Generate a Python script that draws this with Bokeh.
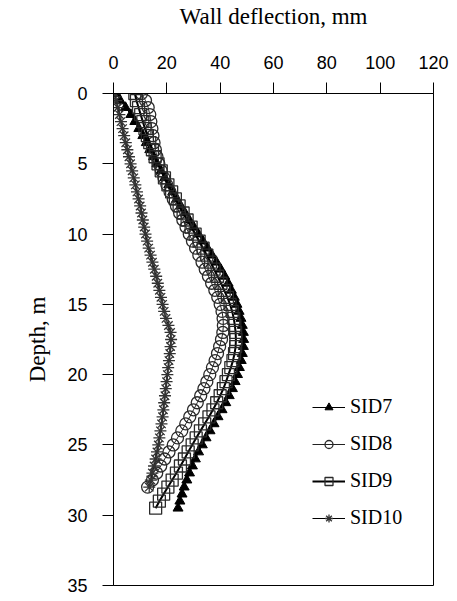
from bokeh.plotting import figure
from bokeh.models import Range1d, FixedTicker, Legend, LegendItem
from bokeh.embed import file_html
from bokeh.resources import INLINE

# Depth (m) and wall deflection (mm) readings
depth_7 = [i * 0.5 for i in range(60)]
sid7 = [1.0, 2.5, 4.5, 6.5, 8.0, 9.5, 11.0, 12.3, 13.6, 15.0,
        16.3, 17.8, 19.2, 20.7, 22.2, 23.7, 25.2, 26.8, 28.4, 30.1,
        31.8, 33.5, 35.2, 36.9, 38.6, 40.2, 41.7, 43.0, 44.2, 45.3,
        46.3, 47.1, 47.8, 48.3, 48.7, 48.8, 48.7, 48.3, 47.9, 47.2,
        46.5, 45.6, 44.6, 43.4, 42.1, 40.7, 39.2, 37.7, 36.2, 34.7,
        33.3, 31.9, 30.7, 29.6, 28.5, 27.5, 26.5, 25.7, 24.9, 24.2]

depth_9 = [i * 0.5 for i in range(60)]
sid9 = [8.0, 8.6, 9.4, 10.2, 11.0, 11.8, 12.7, 13.6, 14.6, 15.6,
        16.7, 17.9, 19.1, 20.4, 21.8, 23.2, 24.6, 26.1, 27.6, 29.1,
        30.6, 32.1, 33.6, 35.0, 36.4, 37.7, 39.0, 40.3, 41.5, 42.7,
        43.7, 44.5, 45.1, 45.5, 45.8, 45.9, 45.8, 45.4, 44.8, 44.0,
        43.1, 42.2, 41.2, 40.0, 38.7, 37.3, 35.8, 34.2, 32.6, 31.0,
        29.5, 28.0, 26.6, 25.1, 23.6, 22.0, 20.4, 18.8, 17.2, 15.8]

depth_8 = [i * 0.5 for i in range(57)]
sid8 = [10.5, 12.0, 13.0, 13.6, 14.0, 14.4, 14.8, 15.2, 15.7, 16.3,
        17.0, 17.9, 18.9, 20.0, 21.2, 22.4, 23.6, 24.8, 26.0, 27.2,
        28.4, 29.6, 30.8, 32.0, 33.2, 34.4, 35.6, 36.8, 38.0, 39.1,
        40.0, 40.7, 41.1, 41.2, 41.0, 40.5, 39.8, 39.0, 38.1, 37.1,
        36.1, 35.0, 33.9, 32.7, 31.4, 30.0, 28.6, 27.1, 25.6, 24.0,
        22.4, 20.8, 19.2, 17.7, 16.2, 14.6, 12.8]

depth_10 = [i * 0.5 for i in range(57)]
sid10 = [0.5, 1.0, 1.6, 2.2, 2.8, 3.4, 4.0, 4.6, 5.2, 5.8,
         6.4, 7.0, 7.6, 8.2, 8.8, 9.4, 10.0, 10.5, 11.0, 11.5,
         12.0, 12.6, 13.2, 13.9, 14.6, 15.3, 16.0, 16.6, 17.2, 17.8,
         18.4, 19.0, 19.7, 20.6, 21.4, 21.6, 21.4, 21.1, 20.8, 20.5,
         20.2, 19.9, 19.6, 19.3, 19.0, 18.7, 18.4, 18.0, 17.6, 17.2,
         16.8, 16.3, 15.8, 15.2, 14.6, 14.0, 13.4]

x_ticks = [0, 20, 40, 60, 80, 100, 120]
y_ticks = [0, 5, 10, 15, 20, 25, 30, 35]

SERIF = "Liberation Serif"
SANS = "Liberation Sans"

p = figure(width=449, height=597, output_backend="svg", toolbar_location=None,
           x_range=Range1d(0, 120), y_range=Range1d(35, 0),
           x_axis_location="above",
           min_border_left=113, min_border_right=16,
           min_border_top=93, min_border_bottom=12)

p.xgrid.visible = False
p.ygrid.visible = False
p.outline_line_color = "black"
p.outline_line_width = 1
p.background_fill_color = "white"
p.border_fill_color = "white"

for ax, ticks in ((p.xaxis[0], x_ticks), (p.yaxis[0], y_ticks)):
    ax.ticker = FixedTicker(ticks=ticks)
    ax.minor_tick_line_color = None
    ax.major_tick_out = 11
    ax.major_tick_in = 0
    ax.axis_line_color = "black"
    ax.major_tick_line_color = "black"
    ax.major_label_text_font = SANS
    ax.major_label_text_font_size = "18px"
    ax.major_label_text_color = "black"
    ax.axis_label_text_font = SERIF
    ax.axis_label_text_font_style = "normal"
    ax.axis_label_text_font_size = "23px"
    ax.axis_label_text_color = "black"

p.xaxis.axis_label = "Wall deflection, mm"
p.yaxis.axis_label = "Depth, m"
p.xaxis.major_label_standoff = 14
p.yaxis.major_label_standoff = 15
p.xaxis.axis_label_standoff = 24
p.yaxis.axis_label_standoff = 14

mk = "#2a2a2a"

l7 = p.line(sid7, depth_7, line_color="black", line_width=1)
m7 = p.scatter(sid7, depth_7, marker="triangle", size=10,
               fill_color="black", line_color="black")

l8 = p.line(sid8, depth_8, line_color="#222222", line_width=1)
m8 = p.scatter(sid8, depth_8, marker="circle", size=12,
               fill_color=None, line_color=mk, line_width=1.3)

l9 = p.line(sid9, depth_9, line_color="black", line_width=2)
m9 = p.scatter(sid9, depth_9, marker="square", size=12,
               fill_color=None, line_color=mk, line_width=1.3)

l10 = p.line(sid10, depth_10, line_color="black", line_width=1)
m10 = p.scatter(sid10, depth_10, marker="asterisk", size=12,
                line_color="#333333", line_width=1.3)

legend = Legend(items=[
    LegendItem(label="SID7", renderers=[l7, m7]),
    LegendItem(label="SID8", renderers=[l8, m8]),
    LegendItem(label="SID9", renderers=[l9, m9]),
    LegendItem(label="SID10", renderers=[l10, m10]),
], location=(199, 56))
legend.border_line_color = None
legend.background_fill_alpha = 0
legend.padding = 0
legend.margin = 0
legend.spacing = 14
legend.glyph_width = 33
legend.glyph_height = 20
legend.label_height = 20
legend.label_standoff = 5
legend.label_text_font = SERIF
legend.label_text_font_size = "20px"
legend.label_text_color = "black"
p.add_layout(legend, "center")

open("out.html", "w").write(file_html(p, INLINE))
